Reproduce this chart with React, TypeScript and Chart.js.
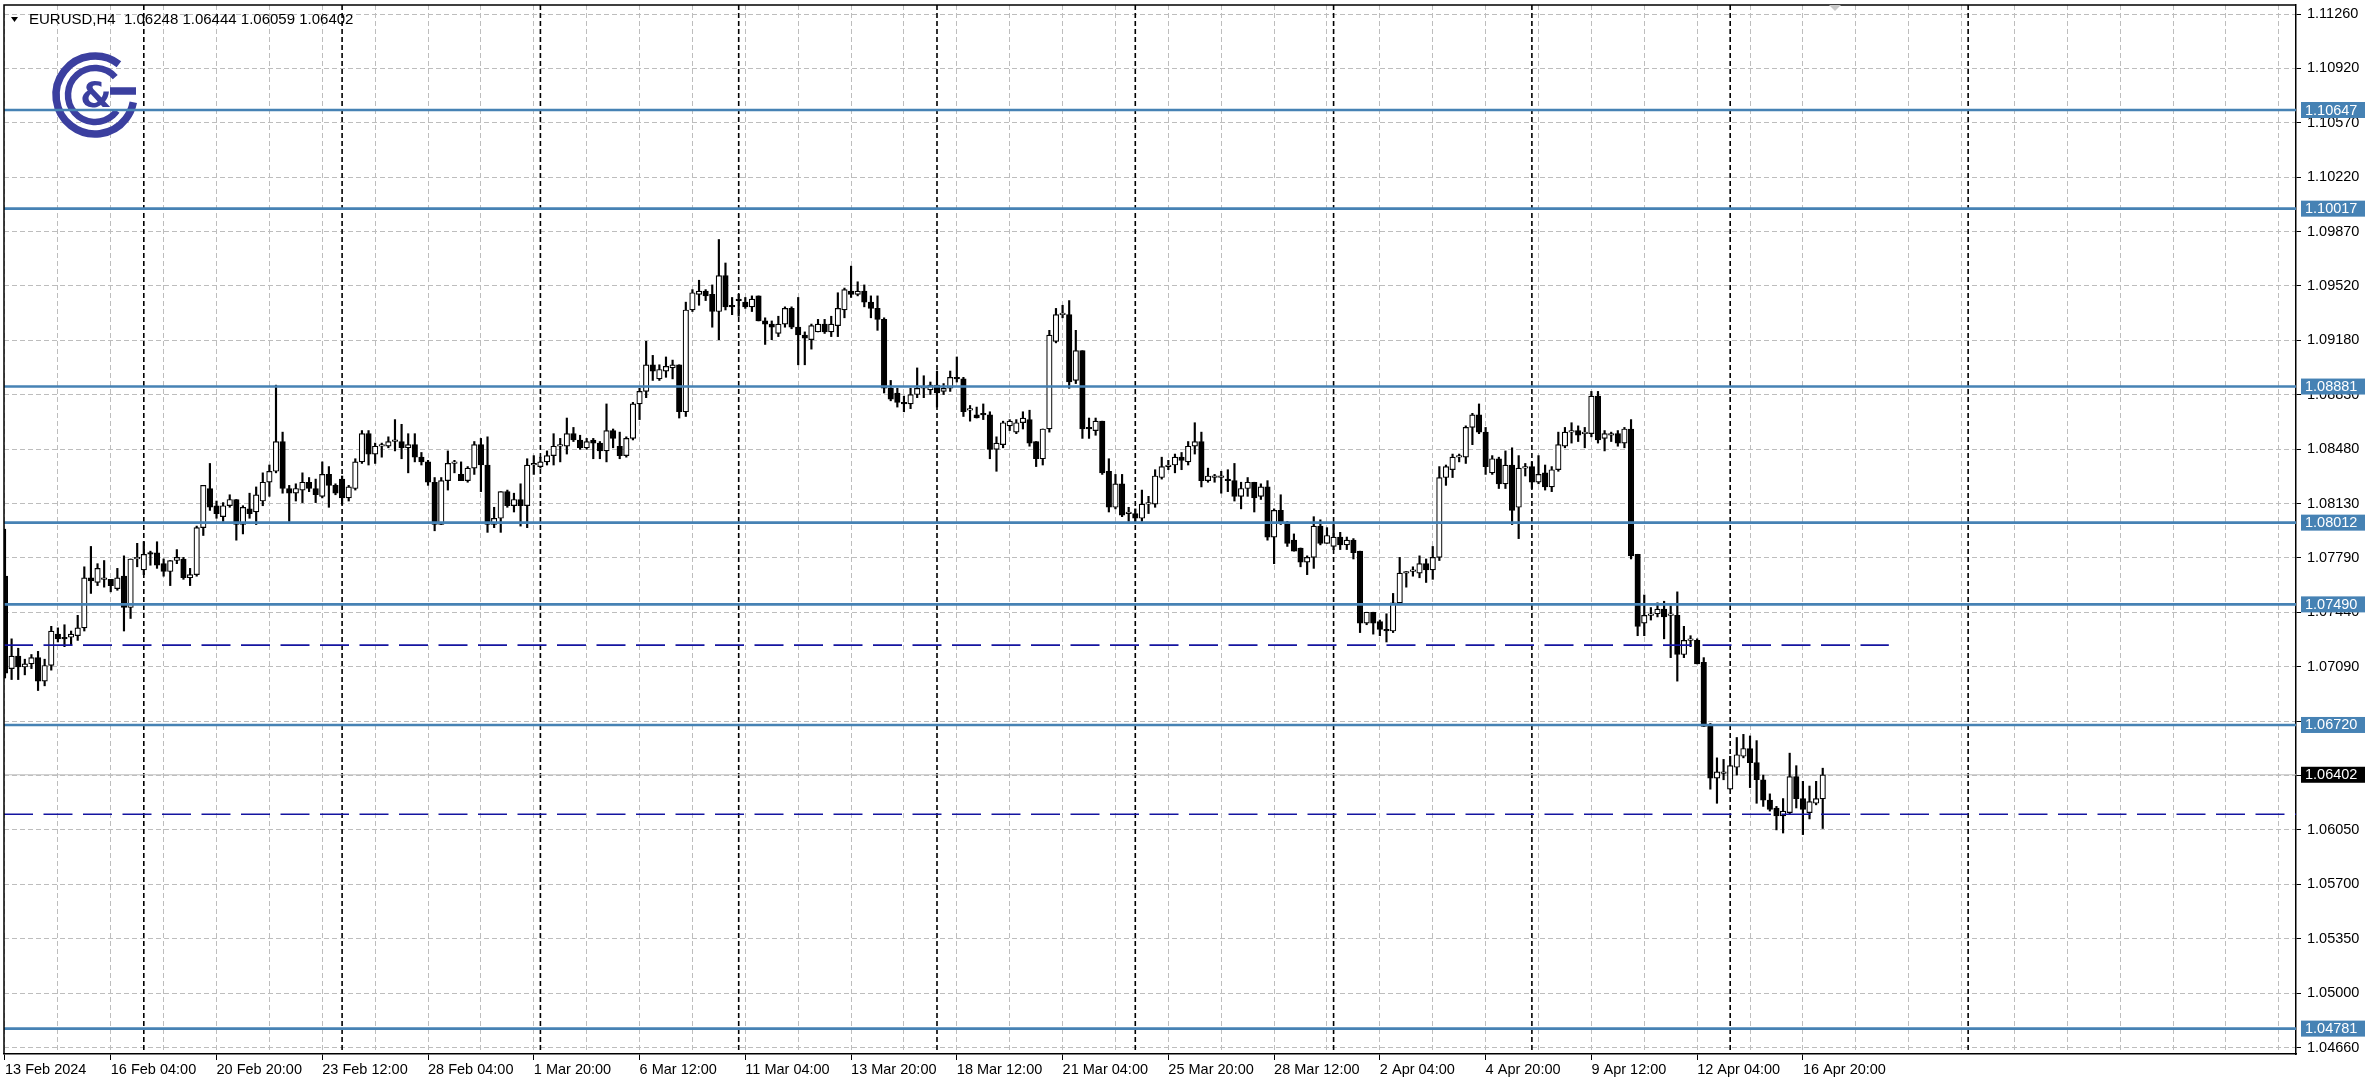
import React, { useEffect, useRef } from 'react';
import { Chart, registerables } from 'chart.js';

Chart.register(...registerables);

// ---------- data (EURUSD H4, one entry per bar, starting 13 Feb 2024 12:00) ----------
const opens = [
  1.0767, 1.0708, 1.0716, 1.0709, 1.0711, 1.0715, 1.0700, 1.0710, 1.0730, 1.0728,
  1.0728, 1.0729, 1.0734, 1.0766, 1.0763, 1.0765, 1.0765, 1.0759, 1.0767, 1.0747,
  1.0778, 1.0771, 1.0782, 1.0782, 1.0775, 1.0770, 1.0777, 1.0778, 1.0766, 1.0768,
  1.0798, 1.0823, 1.0812, 1.0805, 1.0812, 1.0816, 1.0800, 1.0810, 1.0808, 1.0815,
  1.0827, 1.0834, 1.0853, 1.0823, 1.0820, 1.0822, 1.0827, 1.0823, 1.0818, 1.0832,
  1.0825, 1.0829, 1.0817, 1.0823, 1.0840, 1.0858, 1.0845, 1.0850, 1.0850, 1.0853,
  1.0853, 1.0849, 1.0851, 1.0843, 1.0840, 1.0827, 1.0800, 1.0828, 1.0839, 1.0832,
  1.0828, 1.0836, 1.0851, 1.0838, 1.0800, 1.0804, 1.0821, 1.0812, 1.0816, 1.0812,
  1.0838, 1.0837, 1.0840, 1.0844, 1.0850, 1.0850, 1.0858, 1.0854, 1.0849, 1.0854,
  1.0852, 1.0847, 1.0860, 1.0850, 1.0844, 1.0855, 1.0877, 1.0885, 1.0902, 1.0893,
  1.0898, 1.0900, 1.0902, 1.0872, 1.0937, 1.0947, 1.0949, 1.0947, 1.0936, 1.0959,
  1.0940, 1.0944, 1.0942, 1.0939, 1.0946, 1.0930, 1.0928, 1.0922, 1.0928, 1.0938,
  1.0926, 1.0921, 1.0918, 1.0923, 1.0928, 1.0923, 1.0927, 1.0937, 1.0949, 1.0947,
  1.0949, 1.0942, 1.0938, 1.0931, 1.0887, 1.0884, 1.0878, 1.0877, 1.0883, 1.0887,
  1.0886, 1.0889, 1.0885, 1.0887, 1.0894, 1.0893, 1.0873, 1.0870, 1.0871, 1.0870,
  1.0848, 1.0851, 1.0863, 1.0859, 1.0865, 1.0867, 1.0853, 1.0842, 1.0861, 1.0917,
  1.0934, 1.0934, 1.0892, 1.0911, 1.0862, 1.0860, 1.0866, 1.0834, 1.0811, 1.0826,
  1.0807, 1.0807, 1.0804, 1.0813, 1.0813, 1.0830, 1.0837, 1.0838, 1.0843, 1.0840,
  1.0850, 1.0853, 1.0828, 1.0830, 1.0830, 1.0829, 1.0828, 1.0818, 1.0823, 1.0827,
  1.0818, 1.0824, 1.0792, 1.0809, 1.0801, 1.0790, 1.0785, 1.0776, 1.0779, 1.0799,
  1.0788, 1.0786, 1.0792, 1.0787, 1.0790, 1.0783, 1.0737, 1.0744, 1.0738, 1.0733,
  1.0732, 1.0750, 1.0769, 1.0770, 1.0769, 1.0775, 1.0771, 1.0779, 1.0830, 1.0835,
  1.0843, 1.0843, 1.0862, 1.0870, 1.0859, 1.0833, 1.0842, 1.0826, 1.0838, 1.0811,
  1.0836, 1.0837, 1.0827, 1.0833, 1.0824, 1.0835, 1.0850, 1.0859, 1.0860, 1.0858,
  1.0858, 1.0882, 1.0855, 1.0857, 1.0858, 1.0852, 1.0861, 1.0781, 1.0737, 1.0742,
  1.0743, 1.0746, 1.0742, 1.0742, 1.0717, 1.0726, 1.0726, 1.0712, 1.0672, 1.0638,
  1.0641, 1.0631, 1.0645, 1.0652, 1.0657, 1.0648, 1.0637, 1.0624, 1.0619, 1.0614,
  1.0616, 1.0639, 1.0625, 1.0616, 1.0622, 1.06248,
];

const highs = [
  1.0797, 1.0727, 1.0721, 1.0714, 1.0717, 1.0719, 1.0714, 1.0735, 1.0734, 1.0736,
  1.0732, 1.0742, 1.0773, 1.0786, 1.0775, 1.0777, 1.0765, 1.0772, 1.0780, 1.0778,
  1.0788, 1.0789, 1.0783, 1.0789, 1.0778, 1.0777, 1.0784, 1.0779, 1.0772, 1.0799,
  1.0825, 1.0839, 1.0815, 1.0814, 1.0819, 1.0816, 1.0812, 1.0820, 1.0824, 1.0833,
  1.0838, 1.0889, 1.0859, 1.0825, 1.0826, 1.0833, 1.0830, 1.0829, 1.0840, 1.0837,
  1.0826, 1.0831, 1.0825, 1.0842, 1.0860, 1.0860, 1.0852, 1.0852, 1.0856, 1.0867,
  1.0864, 1.0858, 1.0858, 1.0846, 1.0841, 1.0830, 1.0830, 1.0847, 1.0841, 1.0840,
  1.0837, 1.0853, 1.0855, 1.0856, 1.0811, 1.0821, 1.0822, 1.0820, 1.0826, 1.0842,
  1.0844, 1.0843, 1.0847, 1.0858, 1.0855, 1.0868, 1.0862, 1.0857, 1.0855, 1.0855,
  1.0853, 1.0877, 1.0861, 1.0859, 1.0856, 1.0878, 1.0887, 1.0917, 1.0908, 1.0902,
  1.0907, 1.0905, 1.0902, 1.0942, 1.0950, 1.0956, 1.0950, 1.0953, 1.0982, 1.0967,
  1.0945, 1.0947, 1.0945, 1.0946, 1.0946, 1.0932, 1.0930, 1.0933, 1.0939, 1.0939,
  1.0945, 1.0923, 1.0928, 1.0931, 1.0931, 1.0933, 1.0948, 1.0951, 1.0965, 1.0955,
  1.0953, 1.0946, 1.0946, 1.0932, 1.0892, 1.0887, 1.0882, 1.0887, 1.0900, 1.0895,
  1.0891, 1.0898, 1.0890, 1.0898, 1.0907, 1.0894, 1.0876, 1.0875, 1.0877, 1.0872,
  1.0856, 1.0866, 1.0867, 1.0867, 1.0872, 1.0873, 1.0853, 1.0861, 1.0924, 1.0938,
  1.0940, 1.0943, 1.0924, 1.0911, 1.0868, 1.0868, 1.0866, 1.0842, 1.0832, 1.0832,
  1.0811, 1.0810, 1.0822, 1.0818, 1.0835, 1.0843, 1.0841, 1.0845, 1.0846, 1.0853,
  1.0865, 1.0859, 1.0836, 1.0832, 1.0834, 1.0835, 1.0839, 1.0827, 1.0830, 1.0827,
  1.0826, 1.0828, 1.0810, 1.0819, 1.0802, 1.0794, 1.0785, 1.0780, 1.0805, 1.0803,
  1.0798, 1.0801, 1.0795, 1.0792, 1.0791, 1.0783, 1.0744, 1.0744, 1.0739, 1.0743,
  1.0756, 1.0779, 1.0770, 1.0773, 1.0780, 1.0778, 1.0786, 1.0837, 1.0838, 1.0845,
  1.0845, 1.0863, 1.0871, 1.0877, 1.0862, 1.0844, 1.0843, 1.0847, 1.0849, 1.0844,
  1.0839, 1.0840, 1.0844, 1.0838, 1.0837, 1.0859, 1.0862, 1.0865, 1.0863, 1.0862,
  1.0885, 1.0885, 1.0860, 1.0859, 1.0860, 1.0862, 1.0867, 1.0781, 1.0755, 1.0747,
  1.0750, 1.0751, 1.0748, 1.0757, 1.0735, 1.0729, 1.0727, 1.0715, 1.0673, 1.0651,
  1.0650, 1.0652, 1.0664, 1.0666, 1.0665, 1.0662, 1.0640, 1.0628, 1.0620, 1.0625,
  1.0654, 1.0646, 1.0636, 1.0633, 1.0636, 1.06444,
];

const lows = [
  1.0702, 1.0701, 1.0701, 1.0704, 1.0708, 1.0694, 1.0697, 1.0707, 1.0725, 1.0722,
  1.0723, 1.0726, 1.0732, 1.0756, 1.0761, 1.0760, 1.0757, 1.0758, 1.0732, 1.0740,
  1.0773, 1.0768, 1.0774, 1.0772, 1.0767, 1.0761, 1.0775, 1.0765, 1.0761, 1.0767,
  1.0793, 1.0809, 1.0804, 1.0802, 1.0811, 1.0790, 1.0794, 1.0804, 1.0800, 1.0812,
  1.0818, 1.0833, 1.0820, 1.0802, 1.0815, 1.0814, 1.0821, 1.0814, 1.0817, 1.0811,
  1.0819, 1.0813, 1.0815, 1.0822, 1.0839, 1.0838, 1.0839, 1.0843, 1.0849, 1.0847,
  1.0842, 1.0833, 1.0840, 1.0838, 1.0825, 1.0796, 1.0800, 1.0822, 1.0833, 1.0828,
  1.0827, 1.0832, 1.0821, 1.0795, 1.0798, 1.0795, 1.0811, 1.0808, 1.0799, 1.0798,
  1.0832, 1.0836, 1.0838, 1.0838, 1.0840, 1.0845, 1.0853, 1.0848, 1.0848, 1.0842,
  1.0842, 1.0840, 1.0849, 1.0842, 1.0843, 1.0854, 1.0867, 1.0881, 1.0892, 1.0892,
  1.0894, 1.0893, 1.0868, 1.0869, 1.0936, 1.0940, 1.0943, 1.0926, 1.0918, 1.0937,
  1.0934, 1.0933, 1.0938, 1.0936, 1.0930, 1.0915, 1.0918, 1.0920, 1.0926, 1.0925,
  1.0902, 1.0902, 1.0912, 1.0923, 1.0922, 1.0920, 1.0920, 1.0932, 1.0945, 1.0946,
  1.0939, 1.0932, 1.0924, 1.0884, 1.0879, 1.0875, 1.0872, 1.0874, 1.0881, 1.0881,
  1.0883, 1.0875, 1.0883, 1.0885, 1.0891, 1.0869, 1.0866, 1.0868, 1.0867, 1.0842,
  1.0834, 1.0849, 1.0860, 1.0858, 1.0861, 1.0850, 1.0837, 1.0838, 1.0859, 1.0916,
  1.0932, 1.0887, 1.0890, 1.0855, 1.0855, 1.0857, 1.0832, 1.0808, 1.0810, 1.0805,
  1.0802, 1.0801, 1.0802, 1.0807, 1.0811, 1.0829, 1.0835, 1.0833, 1.0835, 1.0838,
  1.0845, 1.0824, 1.0827, 1.0827, 1.0820, 1.0821, 1.0815, 1.0810, 1.0818, 1.0808,
  1.0816, 1.0790, 1.0775, 1.0800, 1.0786, 1.0783, 1.0773, 1.0768, 1.0772, 1.0787,
  1.0788, 1.0784, 1.0784, 1.0784, 1.0778, 1.0731, 1.0736, 1.0730, 1.0729, 1.0725,
  1.0731, 1.0749, 1.0760, 1.0767, 1.0766, 1.0763, 1.0765, 1.0777, 1.0825, 1.0830,
  1.0840, 1.0839, 1.0851, 1.0858, 1.0832, 1.0832, 1.0823, 1.0823, 1.0800, 1.0791,
  1.0831, 1.0823, 1.0826, 1.0822, 1.0821, 1.0834, 1.0849, 1.0852, 1.0853, 1.0849,
  1.0856, 1.0852, 1.0847, 1.0853, 1.0850, 1.0849, 1.0778, 1.0729, 1.0729, 1.0739,
  1.0741, 1.0727, 1.0715, 1.0700, 1.0715, 1.0722, 1.0711, 1.0671, 1.0631, 1.0622,
  1.0637, 1.0631, 1.0640, 1.0651, 1.0632, 1.0622, 1.0620, 1.0617, 1.0605, 1.0603,
  1.0615, 1.0619, 1.0602, 1.0612, 1.0621, 1.06059,
];

const closes = [
  1.0705, 1.0716, 1.0709, 1.0711, 1.0715, 1.0700, 1.0710, 1.0732, 1.0727, 1.0727,
  1.0730, 1.0734, 1.0766, 1.0764, 1.0772, 1.0765, 1.0761, 1.0766, 1.0747, 1.0778,
  1.0779, 1.0781, 1.0781, 1.0774, 1.0770, 1.0777, 1.0779, 1.0766, 1.0768, 1.0798,
  1.0825, 1.0811, 1.0807, 1.0812, 1.0816, 1.0800, 1.0811, 1.0807, 1.0819, 1.0827,
  1.0834, 1.0853, 1.0823, 1.0820, 1.0823, 1.0827, 1.0823, 1.0819, 1.0832, 1.0825,
  1.0820, 1.0817, 1.0824, 1.0840, 1.0858, 1.0845, 1.0850, 1.0851, 1.0853, 1.0853,
  1.0849, 1.0851, 1.0843, 1.0840, 1.0827, 1.0800, 1.0828, 1.0839, 1.0839, 1.0828,
  1.0836, 1.0851, 1.0838, 1.0800, 1.0804, 1.0821, 1.0812, 1.0816, 1.0812, 1.0838,
  1.0838, 1.0840, 1.0844, 1.0850, 1.0850, 1.0858, 1.0854, 1.0849, 1.0853, 1.0852,
  1.0847, 1.0860, 1.0855, 1.0844, 1.0855, 1.0877, 1.0885, 1.0902, 1.0898, 1.0899,
  1.0901, 1.0902, 1.0872, 1.0937, 1.0948, 1.0949, 1.0946, 1.0936, 1.0959, 1.0939,
  1.0939, 1.0943, 1.0939, 1.0944, 1.0930, 1.0928, 1.0926, 1.0928, 1.0938, 1.0926,
  1.0921, 1.0919, 1.0927, 1.0928, 1.0923, 1.0928, 1.0938, 1.0950, 1.0947, 1.0949,
  1.0942, 1.0938, 1.0931, 1.0887, 1.0880, 1.0878, 1.0877, 1.0883, 1.0887, 1.0888,
  1.0889, 1.0884, 1.0887, 1.0894, 1.0893, 1.0872, 1.0873, 1.0868, 1.0870, 1.0848,
  1.0852, 1.0865, 1.0866, 1.0865, 1.0868, 1.0852, 1.0842, 1.0861, 1.0921, 1.0934,
  1.0934, 1.0891, 1.0911, 1.0861, 1.0861, 1.0866, 1.0833, 1.0811, 1.0826, 1.0806,
  1.0807, 1.0804, 1.0813, 1.0813, 1.0831, 1.0837, 1.0837, 1.0843, 1.0841, 1.0850,
  1.0853, 1.0828, 1.0831, 1.0830, 1.0830, 1.0828, 1.0818, 1.0823, 1.0827, 1.0817,
  1.0824, 1.0792, 1.0809, 1.0801, 1.0788, 1.0783, 1.0776, 1.0779, 1.0799, 1.0788,
  1.0793, 1.0792, 1.0787, 1.0790, 1.0782, 1.0737, 1.0744, 1.0737, 1.0733, 1.0732,
  1.0750, 1.0769, 1.0769, 1.0770, 1.0775, 1.0771, 1.0779, 1.0830, 1.0837, 1.0843,
  1.0843, 1.0862, 1.0870, 1.0859, 1.0837, 1.0842, 1.0826, 1.0838, 1.0809, 1.0836,
  1.0836, 1.0827, 1.0832, 1.0824, 1.0835, 1.0851, 1.0859, 1.0859, 1.0857, 1.0858,
  1.0882, 1.0854, 1.0858, 1.0857, 1.0852, 1.0861, 1.0780, 1.0735, 1.0742, 1.0743,
  1.0746, 1.0741, 1.0742, 1.0717, 1.0726, 1.0727, 1.0711, 1.0671, 1.0638, 1.0642,
  1.0641, 1.0646, 1.0653, 1.0657, 1.0648, 1.0637, 1.0624, 1.0618, 1.0614, 1.0617,
  1.0639, 1.0625, 1.0618, 1.0623, 1.0625, 1.06402,
];

// x-axis labels, one every 16 bars
const xTickLabels = [
  '13 Feb 2024', '16 Feb 04:00', '20 Feb 20:00', '23 Feb 12:00', '28 Feb 04:00',
  '1 Mar 20:00', '6 Mar 12:00', '11 Mar 04:00', '13 Mar 20:00', '18 Mar 12:00',
  '21 Mar 04:00', '25 Mar 20:00', '28 Mar 12:00', '2 Apr 04:00', '4 Apr 20:00',
  '9 Apr 12:00', '12 Apr 04:00', '16 Apr 20:00',
];

// price-scale labels, top to bottom (two are hidden behind level tags)
const yTickLabels = [
  '1.11260', '1.10920', '1.10570', '1.10220', '1.09870', '1.09520', '1.09180',
  '1.08830', '1.08480', '1.08130', '1.07790', '1.07440', '1.07090', '', '',
  '1.06050', '1.05700', '1.05350', '1.05000', '1.04660',
];

const levelLines = [1.10647, 1.10017, 1.08881, 1.08012, 1.0749, 1.0672, 1.04781];
const dashedLevels = [1.0723, 1.0615];
const dashedLevelEnds = [285, null];
const weekSeparators = [21, 51, 81, 111, 141, 171, 201, 231, 261, 297];
const bidPrice = 1.06402;
const symbolTitle = 'EURUSD,H4';

// ---------- axis configuration ----------
const X_MIN = -0.15;
const X_MAX = 346.6;
const BARS_PER_LABEL = 16;
const BARS_PER_GRID = 8;
const Y_MIN = 1.046189;
const Y_MAX = 1.113175;
const Y_TOP_TICK = parseFloat(yTickLabels[0]);
const Y_BOTTOM_TICK = parseFloat(yTickLabels[yTickLabels.length - 1]);

const FONT = 'Liberation Sans';
const LEVEL_BLUE = '#4682b4';
const GRID_GRAY = '#bdbdbd';

function drawLogo(ctx: CanvasRenderingContext2D, cx: number, cy: number) {
  const c = '#3b3f9f';
  ctx.save();
  ctx.strokeStyle = c;
  ctx.fillStyle = c;
  ctx.lineCap = 'butt';
  ctx.lineWidth = 7.5;
  ctx.beginPath();
  ctx.arc(cx, cy, 39, -0.29 * Math.PI, 0.06 * Math.PI, true);
  ctx.stroke();
  ctx.beginPath();
  ctx.moveTo(cx + 15, cy - 4);
  ctx.lineTo(cx + 41, cy - 4);
  ctx.stroke();
  ctx.lineWidth = 6.5;
  ctx.beginPath();
  ctx.arc(cx, cy, 27, -0.23 * Math.PI, 0.2 * Math.PI, true);
  ctx.stroke();
  ctx.font = 'bold 36px "DejaVu Sans"';
  ctx.textAlign = 'center';
  ctx.textBaseline = 'middle';
  ctx.fillText('&', cx + 1, cy + 3);
  ctx.restore();
}

const mtPlugin = {
  id: 'mtOverlay',
  beforeDatasetsDraw(chart: any) {
    const { ctx, chartArea: a } = chart;
    const xs = chart.scales.x;
    ctx.save();
    ctx.beginPath();
    ctx.rect(a.left, a.top, a.right - a.left, a.bottom - a.top);
    ctx.clip();
    ctx.strokeStyle = '#000';
    ctx.lineWidth = 1.6;
    ctx.setLineDash([5, 3]);
    for (const idx of weekSeparators) {
      const px = xs.getPixelForValue(idx);
      ctx.beginPath();
      ctx.moveTo(px, a.top);
      ctx.lineTo(px, a.bottom);
      ctx.stroke();
    }
    ctx.setLineDash([]);
    drawLogo(ctx, 95, 95);
    ctx.restore();
  },
  afterDraw(chart: any) {
    const { ctx, chartArea: a } = chart;
    const ys = chart.scales.y;
    ctx.save();
    // frame (left + top)
    ctx.strokeStyle = '#000';
    ctx.lineWidth = 1.5;
    ctx.beginPath();
    ctx.moveTo(a.left, a.bottom);
    ctx.lineTo(a.left, a.top);
    ctx.lineTo(a.right, a.top);
    ctx.stroke();

    // price tags on the right scale
    ctx.font = `14.5px "${FONT}"`;
    ctx.textAlign = 'left';
    ctx.textBaseline = 'middle';
    const tag = (v: number, bg: string) => {
      const py = ys.getPixelForValue(v);
      ctx.fillStyle = bg;
      ctx.fillRect(a.right + 5, py - 8, 64, 16);
      ctx.fillStyle = '#fff';
      ctx.fillText(v.toFixed(5), a.right + 9, py + 0.5);
    };
    levelLines.forEach((v) => tag(v, LEVEL_BLUE));
    tag(bidPrice, '#000');

    // header
    const last = opens.length - 1;
    ctx.fillStyle = '#000';
    ctx.beginPath();
    ctx.moveTo(11, 17);
    ctx.lineTo(18, 17);
    ctx.lineTo(14.5, 22);
    ctx.closePath();
    ctx.fill();
    ctx.font = `15px "${FONT}"`;
    ctx.textBaseline = 'middle';
    const header = `${symbolTitle}  ${opens[last].toFixed(5)} ${highs[last].toFixed(5)} ${lows[last].toFixed(5)} ${closes[last].toFixed(5)}`;
    ctx.fillText(header, 29, 20);

    // chart shift marker
    ctx.fillStyle = '#c8c8c8';
    ctx.beginPath();
    ctx.moveTo(1829, a.top);
    ctx.lineTo(1841, a.top);
    ctx.lineTo(1835, a.top + 6);
    ctx.closePath();
    ctx.fill();
    ctx.restore();
  },
};

export default function App() {
  const ref = useRef<HTMLCanvasElement>(null);

  useEffect(() => {
    const canvas = ref.current;
    if (!canvas) return;

    const wickData = opens.map((_, i) => ({ x: i, y: [lows[i], highs[i]] }));
    const bodyData = opens.map((o, i) => ({ x: i, y: [o, closes[i]] }));

    const levelDatasets = levelLines.map((v) => ({
      type: 'line' as const,
      data: [
        { x: X_MIN, y: v },
        { x: X_MAX, y: v },
      ],
      borderColor: LEVEL_BLUE,
      borderWidth: 2.6,
      pointRadius: 0,
      order: 0,
    }));

    const dashedDatasets = dashedLevels.map((v, k) => ({
      type: 'line' as const,
      data: [
        { x: X_MIN, y: v },
        { x: dashedLevelEnds[k] ?? X_MAX, y: v },
      ],
      borderColor: '#1414a0',
      borderWidth: 1.7,
      borderDash: [29, 10.5],
      pointRadius: 0,
      order: 0,
    }));

    const bidDataset = {
      type: 'line' as const,
      data: [
        { x: X_MIN, y: bidPrice },
        { x: X_MAX, y: bidPrice },
      ],
      borderColor: '#c0c0c0',
      borderWidth: 1,
      pointRadius: 0,
      order: 3,
    };

    const chart = new Chart(canvas, {
      type: 'bar',
      data: {
        datasets: [
          {
            type: 'bar',
            data: wickData as any,
            backgroundColor: '#000',
            borderWidth: 0,
            barThickness: 1.5,
            grouped: false,
            order: 2,
          } as any,
          {
            type: 'bar',
            data: bodyData as any,
            backgroundColor: (c: any) =>
              closes[c.dataIndex] >= opens[c.dataIndex] ? '#ffffff' : '#000000',
            borderColor: '#000',
            borderWidth: 1.2,
            borderSkipped: false,
            barThickness: 5.5,
            minBarLength: 1.6,
            grouped: false,
            order: 1,
          } as any,
          bidDataset as any,
          ...(dashedDatasets as any[]),
          ...(levelDatasets as any[]),
        ],
      },
      options: {
        responsive: false,
        maintainAspectRatio: false,
        animation: false,
        devicePixelRatio: 1,
        events: [],
        layout: { padding: { left: 4, top: 5, right: 0, bottom: 0 } },
        plugins: {
          legend: { display: false },
          tooltip: { enabled: false },
        },
        scales: {
          x: {
            type: 'linear',
            position: 'bottom',
            min: X_MIN,
            max: X_MAX,
            offset: false,
            afterBuildTicks: (scale: any) => {
              const t = [];
              for (let v = 0; v <= X_MAX; v += BARS_PER_GRID) t.push({ value: v });
              scale.ticks = t;
            },
            afterFit: (scale: any) => {
              scale.height = 35;
              scale.paddingLeft = 0;
              scale.paddingRight = 0;
            },
            ticks: {
              autoSkip: false,
              maxRotation: 0,
              minRotation: 0,
              align: 'start',
              padding: 1,
              color: '#000',
              font: { family: FONT, size: 14.5 },
              callback: (value: any) => {
                const v = Number(value);
                if (v % BARS_PER_LABEL !== 0) return '';
                return xTickLabels[v / BARS_PER_LABEL] ?? '';
              },
            },
            grid: {
              color: GRID_GRAY,
              lineWidth: 1,
              offset: false,
              drawTicks: true,
              tickLength: 6,
              tickWidth: 1,
              tickColor: (c: any) =>
                c.tick && c.tick.value % BARS_PER_LABEL === 0 &&
                c.tick.value / BARS_PER_LABEL < xTickLabels.length
                  ? '#000'
                  : 'rgba(0,0,0,0)',
            },
            border: { display: true, color: '#000', width: 1.5, dash: [5, 3] },
          } as any,
          y: {
            type: 'linear',
            position: 'right',
            min: Y_MIN,
            max: Y_MAX,
            afterBuildTicks: (scale: any) => {
              const n = yTickLabels.length;
              const step = (Y_TOP_TICK - Y_BOTTOM_TICK) / (n - 1);
              scale.ticks = yTickLabels.map((_, i) => ({ value: Y_TOP_TICK - i * step }));
            },
            afterFit: (scale: any) => {
              scale.width = 76;
              scale.paddingTop = 0;
              scale.paddingBottom = 0;
            },
            ticks: {
              autoSkip: false,
              padding: 6,
              color: '#000',
              font: { family: FONT, size: 14.5 },
              callback: (_v: any, i: number) => yTickLabels[i] ?? '',
            },
            grid: {
              color: GRID_GRAY,
              lineWidth: 1,
              drawTicks: true,
              tickLength: 5,
              tickColor: '#000',
            },
            border: { display: true, color: '#000', width: 1.5, dash: [5, 3] },
          } as any,
        },
      },
      plugins: [mtPlugin as any],
    } as any);

    return () => chart.destroy();
  }, []);

  return (
    <div
      style={{
        position: 'fixed',
        left: 0,
        top: 0,
        width: 2372,
        height: 1089,
        background: '#fff',
      }}
    >
      <canvas
        ref={ref}
        width={2372}
        height={1089}
        style={{ display: 'block', width: 2372, height: 1089 }}
      />
    </div>
  );
}
